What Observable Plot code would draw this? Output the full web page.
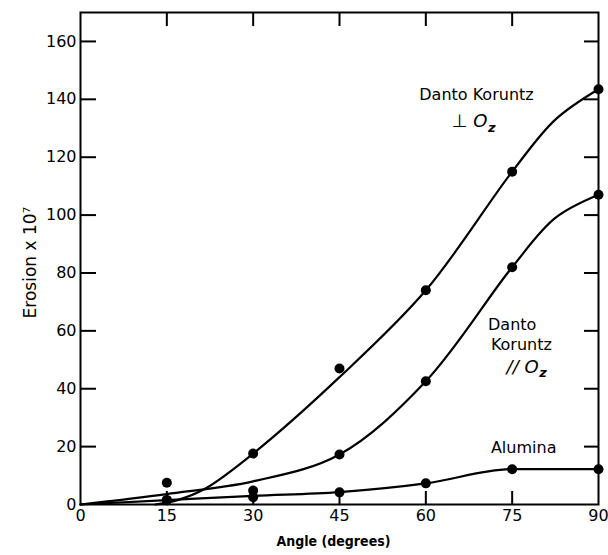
<!DOCTYPE html>
<html><head><meta charset="utf-8">
<script src="https://cdn.jsdelivr.net/npm/d3@7"></script>
<script src="https://cdn.jsdelivr.net/npm/@observablehq/plot@0.6"></script>
<style>body{margin:0;background:#fff}</style>
</head><body><div id="chart"></div>
<script>
// Axis ticks
const xTicks = [0, 15, 30, 45, 60, 75, 90];
const yTicks = [0, 20, 40, 60, 80, 100, 120, 140, 160];
const xInner = [15, 30, 45, 60, 75];
const yInner = [20, 40, 60, 80, 100, 120, 140, 160];

// Measured points (angle, erosion x 10^7)
const perpAngle = [15, 30, 45, 60, 75, 90];
const perpValue = [1.5, 17.6, 47, 74, 115, 143.5];
const paraAngle = [15, 30, 45, 60, 75, 90];
const paraValue = [7.5, 4.8, 17.3, 42.6, 82, 107];
const aluAngle = [15, 30, 45, 60, 75, 90];
const aluValue = [1.5, 2.5, 4.2, 7.3, 12.2, 12.2];

// Fitted curves
const perpCurveAngle = [13, 17, 21.7, 30, 45, 60, 75, 82.5, 90];
const perpCurveValue = [0, 1.6, 5.5, 17.6, 44, 74, 115, 133, 143.5];
const paraCurveAngle = [0, 15, 30, 45, 60, 75, 82.5, 90];
const paraCurveValue = [0, 3.6, 8, 17.3, 42.6, 82, 99, 107];
const aluCurveAngle = [0, 15, 30, 45, 60, 75, 90];
const aluCurveValue = [0, 1.5, 3, 4.3, 7.3, 12.2, 12.2];

// Annotations
const labelText = ["Danto Koruntz", "Danto", "Koruntz", "Alumina"];
const labelAngle = [68.8, 75, 76.6, 77];
const labelValue = [141.6, 62, 55, 19.7];
const subText = ["\u22A5 O", "// O"];
const subAngle = [70.7, 79.6];
const subValue = [132.3, 47.4];
const zAngle = [70.8, 79.7];
const zValue = [130.2, 45.6];

const pts = (a, v) => a.map((x, i) => ({x, y: v[i]}));
const ann = (t, a, v) => t.map((text, i) => ({text, x: a[i], y: v[i]}));

const W = 608, H = 555, ML = 80, MR = 10, MT = 12, MB = 51;
const FW = W - ML - MR, FH = H - MT - MB;
const chart = Plot.plot({
  width: W, height: H,
  marginLeft: ML, marginRight: MR, marginTop: MT, marginBottom: MB,
  style: {fontFamily: "DejaVu Sans", fontSize: "16px", background: "#fff", color: "#000"},
  x: {domain: [0, 90], ticks: xTicks, tickSize: 0, tickPadding: 5, label: null},
  y: {domain: [0, 170], ticks: yTicks, tickSize: 0, tickPadding: 4, label: null},
  marks: [
    Plot.frame({stroke: "#000", strokeWidth: 2}),
    // inward ticks
    Plot.ruleX(xInner, {x: d => d, insetBottom: FH - 14, stroke: "#000", strokeWidth: 2}),
    Plot.ruleX(xInner, {x: d => d, insetTop: FH - 13, stroke: "#000", strokeWidth: 2}),
    Plot.ruleY(yInner, {y: d => d, insetRight: FW - 16, stroke: "#000", strokeWidth: 2}),
    Plot.ruleY(yInner, {y: d => d, insetLeft: FW - 14, stroke: "#000", strokeWidth: 2}),
    Plot.text(["Erosion x 10\u2077"], {frameAnchor: "left", textAnchor: "middle", dx: -50, dy: 4, rotate: -90, fontSize: 17}),
    Plot.text(["Angle (degrees)"], {frameAnchor: "bottom", textAnchor: "middle", dx: -6, dy: 41, fontWeight: "bold", fontFamily: "DejaVu Sans Condensed", fontSize: 14}),
    Plot.line(pts(perpCurveAngle, perpCurveValue), {x: "x", y: "y", curve: "catmull-rom", stroke: "#000", strokeWidth: 2.2}),
    Plot.line(pts(paraCurveAngle, paraCurveValue), {x: "x", y: "y", curve: "catmull-rom", stroke: "#000", strokeWidth: 2.2}),
    Plot.line(pts(aluCurveAngle, aluCurveValue), {x: "x", y: "y", curve: "monotone-x", stroke: "#000", strokeWidth: 2.2}),
    Plot.dot(pts(perpAngle, perpValue), {x: "x", y: "y", r: 5, fill: "#000"}),
    Plot.dot(pts(paraAngle, paraValue), {x: "x", y: "y", r: 5, fill: "#000"}),
    Plot.dot(pts(aluAngle, aluValue), {x: "x", y: "y", r: 5, fill: "#000"}),
    Plot.text(ann(labelText, labelAngle, labelValue), {x: "x", y: "y", text: "text", fontSize: 16}),
    Plot.text(ann(subText, subAngle, subValue), {x: "x", y: "y", text: "text", textAnchor: "end", fontSize: 18, fontStyle: "italic"}),
    Plot.text(ann(["z", "z"], zAngle, zValue), {x: "x", y: "y", text: "text", textAnchor: "start", fontSize: 13, fontStyle: "italic", fontWeight: "bold"})
  ]
});
document.getElementById("chart").appendChild(chart);
</script>
</body></html>
